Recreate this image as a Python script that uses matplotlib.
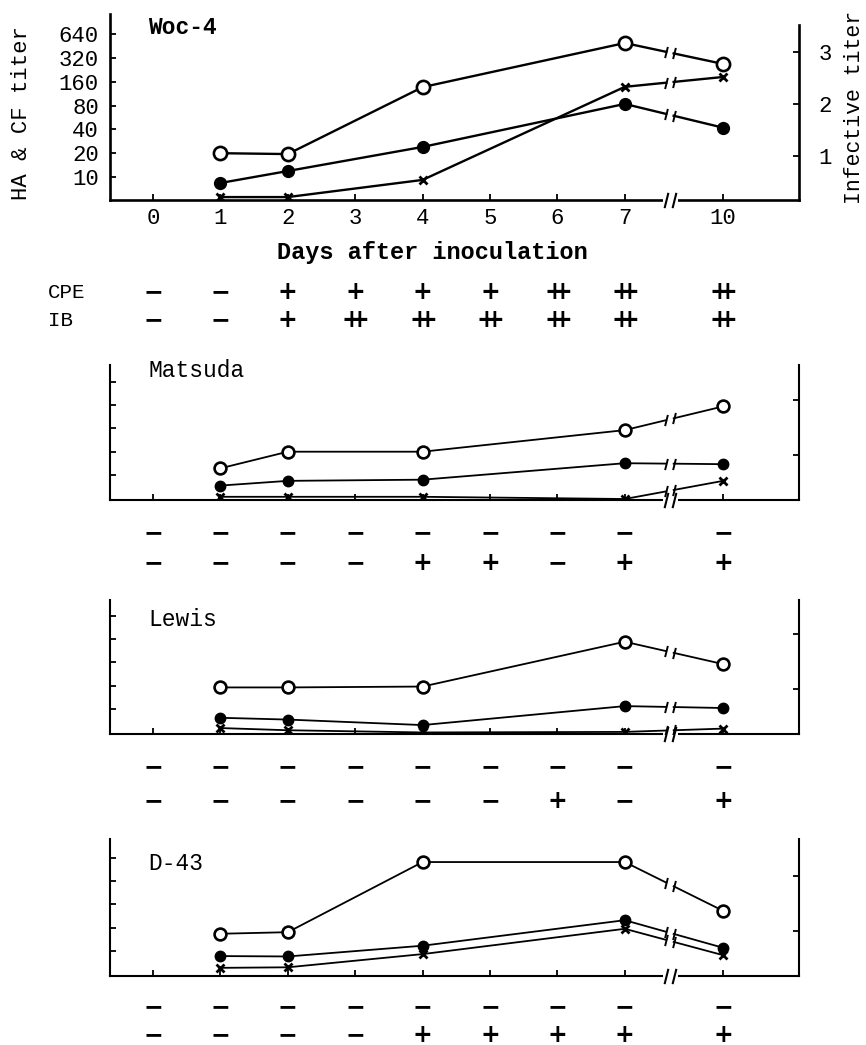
import numpy as np
import matplotlib
matplotlib.use('Agg')
import matplotlib.pyplot as plt
from matplotlib import transforms
from matplotlib.path import Path
from matplotlib.ticker import NullLocator

plt.rcParams['font.family'] = ['Liberation Mono', 'DejaVu Sans Mono']
plt.rcParams['mathtext.fontset'] = 'dejavusans'

W, H = 866, 1045

# x axis: days 0-7 evenly spaced, then a break and day 10
day_labels = ['0', '1', '2', '3', '4', '5', '6', '7', '10']
tick_pos = [0, 1, 2, 3, 4, 5, 6, 7, 8.46]
days = [1, 2, 4, 7, 10]
brk = 7.67

# HA titer (open), CF titer (filled) on the left log2 axis, infective titer (x) on the right
woc_open = [20, 19.5, 137, 495, 269]
woc_filled = [8.4, 11.9, 24, 84, 42]
woc_cross = [0.21, 0.21, 0.54, 2.33, 2.52]

mat_open = [12.2, 20, 20, 38, 77]
mat_filled = [7.3, 8.4, 8.7, 14.2, 13.8]
mat_cross = [0.24, 0.24, 0.24, 0.2, 0.53]

lew_open = [19, 19, 19.5, 74, 38]
lew_filled = [7.7, 7.3, 6.2, 10.9, 10.3]
lew_cross = [0.29, 0.25, 0.21, 0.22, 0.28]

d43_open = [16.7, 17.5, 141, 141, 33]
d43_filled = [8.6, 8.5, 11.7, 25, 11]
d43_cross = [0.33, 0.34, 0.58, 1.04, 0.56]

# CPE / IB grading under each panel (days 0-7, 10)
woc_cpe = ['-', '-', '+', '+', '+', '+', '++', '++', '++']
woc_ib = ['-', '-', '+', '++', '++', '++', '++', '++', '++']
mat_cpe = ['-', '-', '-', '-', '-', '-', '-', '-', '-']
mat_ib = ['-', '-', '-', '-', '+', '+', '-', '+', '+']
lew_cpe = ['-', '-', '-', '-', '-', '-', '-', '-', '-']
lew_ib = ['-', '-', '-', '-', '-', '-', '+', '-', '+']
d43_cpe = ['-', '-', '-', '-', '-', '-', '-', '-', '-']
d43_ib = ['-', '-', '-', '-', '+', '+', '+', '+', '+']

names = ['Woc-4', 'Matsuda', 'Lewis', 'D-43']
opens = [woc_open, mat_open, lew_open, d43_open]
filleds = [woc_filled, mat_filled, lew_filled, d43_filled]
crosses = [woc_cross, mat_cross, lew_cross, d43_cross]
cpes = [woc_cpe, mat_cpe, lew_cpe, d43_cpe]
ibs = [woc_ib, mat_ib, lew_ib, d43_ib]

# pixel geometry: top, bottom, title y, row1 y, row2 y
geo = [(14, 199.5, 28, 292, 320),
       (365, 500, 370, 533, 563),
       (600, 734, 619, 767, 801),
       (839, 976, 863, 1007, 1035)]

symbols = {'-': '\u2212', '+': '+', '++': r'$\mathbf{{+}\!\!\!{+}}$'}

fig = plt.figure(figsize=(W / 100, H / 100), dpi=100)

left_px, right_px = 110, 799
x0_px, dx_px = 153, 67.4
xlim = ((left_px - x0_px) / dx_px, (right_px - x0_px) / dx_px)

slant = Path([(-0.25, -1), (0.25, 1)], [Path.MOVETO, Path.LINETO])
pos_of = dict(zip([0, 1, 2, 3, 4, 5, 6, 7, 10], tick_pos))
xs = [pos_of[d] for d in days]
gap = 0.055


def fx(x):
    return x / W


def fy(y):
    return 1 - y / H


def draw_series(ax, y, marker, mfc, ms, mew, lw, log):
    y = np.asarray(y, dtype=float)
    ta = (brk - gap - xs[3]) / (xs[4] - xs[3])
    tb = (brk + gap - xs[3]) / (xs[4] - xs[3])
    if log:
        l7, l10 = np.log2(y[3]), np.log2(y[4])
        ya, yb = 2 ** (l7 + ta * (l10 - l7)), 2 ** (l7 + tb * (l10 - l7))
    else:
        ya, yb = y[3] + ta * (y[4] - y[3]), y[3] + tb * (y[4] - y[3])
    ax.plot(xs[:4] + [brk - gap], list(y[:4]) + [ya], color='black', lw=lw, zorder=3)
    ax.plot([brk + gap, xs[4]], [yb, y[4]], color='black', lw=lw, zorder=3)
    ax.plot([brk - gap, brk + gap], [ya, yb], linestyle='none', marker=slant,
            ms=8, mew=1.4, color='black', zorder=3)
    ax.plot(xs, y, linestyle='none', marker=marker, ms=ms, mfc=mfc, mec='black',
            mew=mew, color='black', zorder=4)


for i in range(4):
    top, bot, ty, r1, r2 = geo[i]
    h = bot - top
    ax = fig.add_axes([fx(left_px), fy(bot), (right_px - left_px) / W, h / H])
    ax2 = ax.twinx()
    main = i == 0
    if main:
        a_l, s_l, a_r, s_r = 22.5, 23.8, 43.5, 52.0
        lw_sp, lw_ln = 1.9, 1.7
    else:
        a_l, s_l, a_r, s_r = 25.0, 23.3, 45.0, 55.0
        lw_sp, lw_ln = 1.5, 1.3
    ax.set_yscale('log', base=2)
    ax.set_ylim(10 * 2 ** (-a_l / s_l), 10 * 2 ** ((h - a_l) / s_l))
    lo_r = 1 - a_r / s_r
    ax2.set_ylim(lo_r, lo_r + h / s_r)
    ax.set_xlim(*xlim)

    for a in (ax, ax2):
        a.spines['top'].set_visible(False)
        a.set_facecolor('none')
    ax.spines['right'].set_visible(False)
    ax2.spines['left'].set_visible(False)
    ax2.spines['bottom'].set_visible(False)
    for s in ('left', 'bottom'):
        ax.spines[s].set_linewidth(lw_sp)
    ax2.spines['right'].set_linewidth(lw_sp)
    if main:
        ax2.spines['right'].set_bounds(lo_r, lo_r + (bot - 25) / s_r)

    ax.set_xticks(tick_pos)
    ax.yaxis.set_minor_locator(NullLocator())
    ax2.set_yticks([1, 2, 3] if main else [1, 2])
    if main:
        ax.set_yticks([10, 20, 40, 80, 160, 320, 640])
        ax.set_yticklabels(['10', '20', '40', '80', '160', '320', '640'])
        ax.set_xticklabels(day_labels)
        ax2.set_yticklabels(['1', '2', '3'])
    else:
        ax.set_yticks([10, 20, 40, 80, 160])
        ax.set_yticklabels([])
        ax.set_xticklabels([])
        ax2.set_yticklabels([])
    ax.tick_params(direction='in', length=4, width=1.3, labelsize=16, pad=8)
    ax.tick_params(axis='x', pad=6)
    ax2.tick_params(direction='in', length=4, width=1.3, labelsize=16, pad=14)

    draw_series(ax, opens[i], 'o', 'white', 9.5 if main else 8.5, 1.9, lw_ln, True)
    draw_series(ax, filleds[i], 'o', 'black', 8.5 if main else 7.5, 1.0, lw_ln, True)
    draw_series(ax2, crosses[i], 'x', 'black', 6 if main else 5.5, 2.0, lw_ln, False)

    # break on the x axis
    blend = transforms.blended_transform_factory(ax.transData, ax.transAxes)
    ax.plot([brk - gap, brk + gap], [0, 0], color='white', lw=5, transform=blend,
            clip_on=False, zorder=6)
    ax.plot([brk - gap, brk + gap], [0, 0], linestyle='none', marker=slant, ms=11,
            mew=1.5, color='black', transform=blend, clip_on=False, zorder=7)

    fig.text(fx(148), fy(ty), names[i], fontsize=16.5, ha='left', va='center',
             fontweight='bold' if main else 'normal')

    # CPE / IB rows
    rowt = transforms.blended_transform_factory(ax.transData, fig.transFigure)
    for ry, row in ((r1, cpes[i]), (r2, ibs[i])):
        for p, sym in zip(tick_pos, row):
            fig.text(p, fy(ry), symbols[sym], transform=rowt, ha='center', va='center',
                     fontsize=17, fontweight='bold', family='DejaVu Sans')

fig.text(fx(48), fy(292), 'CPE', fontsize=15, ha='left', va='center')
fig.text(fx(48), fy(320), 'IB', fontsize=15, ha='left', va='center')
fig.text(fx(432), fy(253), 'Days after inoculation', fontsize=17, ha='center', va='center',
         fontweight='bold')
fig.text(fx(22), fy(113), 'HA & CF titer', fontsize=16, rotation=90, ha='center', va='center')
fig.text(fx(854), fy(107), 'Infective titer', fontsize=15.5, rotation=90, ha='center', va='center')

fig.savefig('out.png', dpi=100)
